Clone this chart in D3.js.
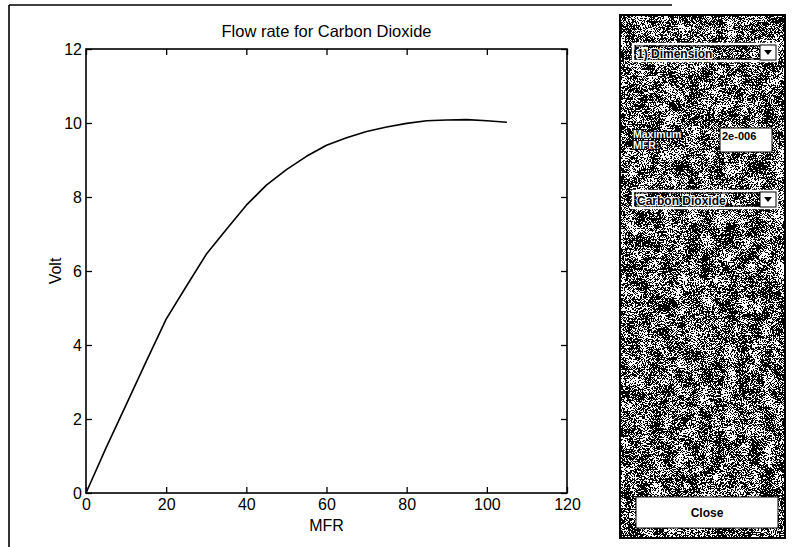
<!DOCTYPE html>
<html>
<head>
<meta charset="utf-8">
<script src="https://cdn.jsdelivr.net/npm/d3@7"></script>
<style>
  body { margin: 0; background: #fff; }
  svg { display: block; }
  text { font-family: "Liberation Sans", Arial, Helvetica, sans-serif; }
</style>
</head>
<body>
<svg id="chart" width="795" height="547"></svg>
<script>
// Calibration curve: sensor voltage against mass flow rate
const mfr  = [0, 5, 10, 15, 20, 25, 30, 35, 40, 45, 50, 55, 60, 65, 70, 75, 80, 85, 90, 95, 100, 105];
const volt = [0, 1.22, 2.38, 3.55, 4.7, 5.58, 6.45, 7.12, 7.78, 8.32, 8.74, 9.1, 9.4, 9.6, 9.77, 9.89, 9.99, 10.06, 10.08, 10.09, 10.06, 10.02];

const xTicks = [0, 20, 40, 60, 80, 100, 120];
const yTicks = [0, 2, 4, 6, 8, 10, 12];

const chartTitle = "Flow rate for Carbon Dioxide";
const xLabel = "MFR";
const yLabel = "Volt";

// Control panel contents
const dimensionChoice = "1) Dimension";
const gasChoice = "Carbon Dioxide";
const maxLabel = ["Maximum", "MFR:"];
const maxValue = "2e-006";
const closeLabel = "Close";

const svg = d3.select("#chart");

// ---------- figure frame ----------
svg.append("line").attr("x1", 9).attr("y1", 5).attr("x2", 9).attr("y2", 547)
  .attr("stroke", "#000").attr("stroke-width", 1.6);
svg.append("line").attr("x1", 9).attr("y1", 5).attr("x2", 672).attr("y2", 5)
  .attr("stroke", "#000").attr("stroke-width", 1.6);

// ---------- plot ----------
const plot = { left: 86, right: 567, top: 49, bottom: 493 };
const x = d3.scaleLinear().domain([0, 120]).range([plot.left, plot.right]);
const y = d3.scaleLinear().domain([0, 12]).range([plot.bottom, plot.top]);

const tickLen = 6;
const fontSize = 16;

function styleAxis(g) {
  g.select(".domain").remove();
  g.selectAll(".tick line").attr("stroke", "#000").attr("stroke-width", 1.3);
  g.selectAll(".tick text").attr("fill", "#000")
    .style("font-size", fontSize + "px")
    .style("font-family", '"Liberation Sans", Arial, sans-serif');
}

svg.append("g").attr("transform", `translate(0,${plot.bottom})`)
  .call(d3.axisBottom(x).tickValues(xTicks).tickSizeInner(-tickLen).tickSizeOuter(0).tickPadding(6))
  .call(styleAxis);
svg.append("g").attr("transform", `translate(0,${plot.top})`)
  .call(d3.axisTop(x).tickValues(xTicks).tickSizeInner(-tickLen).tickSizeOuter(0).tickFormat(""))
  .call(styleAxis);
svg.append("g").attr("transform", `translate(${plot.left},0)`)
  .call(d3.axisLeft(y).tickValues(yTicks).tickSizeInner(-tickLen).tickSizeOuter(0).tickPadding(4))
  .call(styleAxis);
svg.append("g").attr("transform", `translate(${plot.right},0)`)
  .call(d3.axisRight(y).tickValues(yTicks).tickSizeInner(-tickLen).tickSizeOuter(0).tickFormat(""))
  .call(styleAxis);

// axes box
svg.append("rect")
  .attr("x", plot.left).attr("y", plot.top)
  .attr("width", plot.right - plot.left).attr("height", plot.bottom - plot.top)
  .attr("fill", "none").attr("stroke", "#000").attr("stroke-width", 1.6);

// curve
const pts = mfr.map((m, i) => [m, volt[i]]);
svg.append("path")
  .datum(pts)
  .attr("fill", "none")
  .attr("stroke", "#000")
  .attr("stroke-width", 1.6)
  .attr("stroke-linejoin", "round")
  .attr("d", d3.line().x(d => x(d[0])).y(d => y(d[1])));

// title and axis labels
svg.append("text").attr("x", (plot.left + plot.right) / 2).attr("y", 37)
  .attr("text-anchor", "middle").style("font-size", "16.5px").text(chartTitle);
svg.append("text").attr("x", (plot.left + plot.right) / 2).attr("y", 531)
  .attr("text-anchor", "middle").style("font-size", "16px").text(xLabel);
svg.append("text").attr("transform", `translate(61,${(plot.top + plot.bottom) / 2}) rotate(-90)`)
  .attr("text-anchor", "middle").style("font-size", "16px").text(yLabel);

// ---------- control panel ----------
// dithered grey backdrop: fine grain with a faint low-frequency mottle, thresholded to black/white
const defs = svg.append("defs");
const grain = defs.append("filter").attr("id", "grain")
  .attr("x", 0).attr("y", 0).attr("width", 1).attr("height", 1)
  .attr("color-interpolation-filters", "sRGB");
grain.append("feTurbulence").attr("type", "fractalNoise").attr("baseFrequency", 1.3)
  .attr("numOctaves", 1).attr("seed", 7).attr("result", "fineRaw");
grain.append("feColorMatrix").attr("in", "fineRaw").attr("type", "matrix")
  .attr("values", "1 0 0 0 0  1 0 0 0 0  1 0 0 0 0  0 0 0 0 1").attr("result", "fine");
grain.append("feTurbulence").attr("type", "fractalNoise").attr("baseFrequency", 0.08)
  .attr("numOctaves", 2).attr("seed", 3).attr("result", "coarseRaw");
grain.append("feColorMatrix").attr("in", "coarseRaw").attr("type", "matrix")
  .attr("values", "1 0 0 0 0  1 0 0 0 0  1 0 0 0 0  0 0 0 0 1").attr("result", "coarse");
grain.append("feComposite").attr("in", "fine").attr("in2", "coarse").attr("operator", "arithmetic")
  .attr("k1", 0).attr("k2", 1).attr("k3", 0.35).attr("k4", -0.2).attr("result", "mix");
const ct = grain.append("feComponentTransfer").attr("in", "mix");
["R", "G", "B"].forEach(c => ct.append("feFunc" + c).attr("type", "discrete").attr("tableValues", "0 1"));
ct.append("feFuncA").attr("type", "linear").attr("slope", 0).attr("intercept", 1);

const panel = { x: 620, y: 15, w: 165, h: 523 };
svg.append("rect").attr("x", panel.x).attr("y", panel.y).attr("width", panel.w).attr("height", panel.h)
  .attr("fill", "#888").attr("filter", "url(#grain)");
svg.append("rect").attr("x", panel.x).attr("y", panel.y).attr("width", panel.w).attr("height", panel.h)
  .attr("fill", "none").attr("stroke", "#000").attr("stroke-width", 2);

function popup(yTop, label) {
  const g = svg.append("g");
  g.append("rect").attr("x", 633).attr("y", yTop).attr("width", 144).attr("height", 17)
    .attr("fill", "none").attr("stroke", "#fff").attr("stroke-width", 2.5);
  g.append("rect").attr("x", 635).attr("y", yTop + 2).attr("width", 140).attr("height", 13)
    .attr("fill", "none").attr("stroke", "#000").attr("stroke-width", 1);
  g.append("text").attr("x", 637).attr("y", yTop + 13.5)
    .style("font-size", "12px").style("font-weight", "bold")
    .attr("fill", "#000").attr("stroke", "#fff").attr("stroke-width", 2.2)
    .attr("paint-order", "stroke").text(label);
  g.append("rect").attr("x", 760).attr("y", yTop + 1).attr("width", 16).attr("height", 15)
    .attr("fill", "#fff").attr("stroke", "#000").attr("stroke-width", 1);
  g.append("path")
    .attr("d", `M${764},${yTop + 6} L${772},${yTop + 6} L${768},${yTop + 11} Z`)
    .attr("fill", "#000");
}
popup(44, dimensionChoice);
popup(191, gasChoice);

// maximum MFR label and edit box
svg.append("g").selectAll("text").data(maxLabel).join("text")
  .attr("x", 633).attr("y", (d, i) => 138 + i * 11)
  .style("font-size", "10.5px").style("font-weight", "bold")
  .attr("fill", "#fff").attr("stroke", "#000").attr("stroke-width", 2)
  .attr("paint-order", "stroke").text(d => d);
svg.append("rect").attr("x", 720).attr("y", 128).attr("width", 52).attr("height", 24)
  .attr("fill", "#fff").attr("stroke", "#000").attr("stroke-width", 1);
svg.append("text").attr("x", 722).attr("y", 140)
  .style("font-size", "11px").style("font-weight", "bold").text(maxValue);

// close button
svg.append("rect").attr("x", 636).attr("y", 497).attr("width", 142).attr("height", 31)
  .attr("fill", "#fff").attr("stroke", "#000").attr("stroke-width", 1);
svg.append("text").attr("x", 707).attr("y", 517).attr("text-anchor", "middle")
  .style("font-size", "12px").style("font-weight", "bold").text(closeLabel);
</script>
</body>
</html>
